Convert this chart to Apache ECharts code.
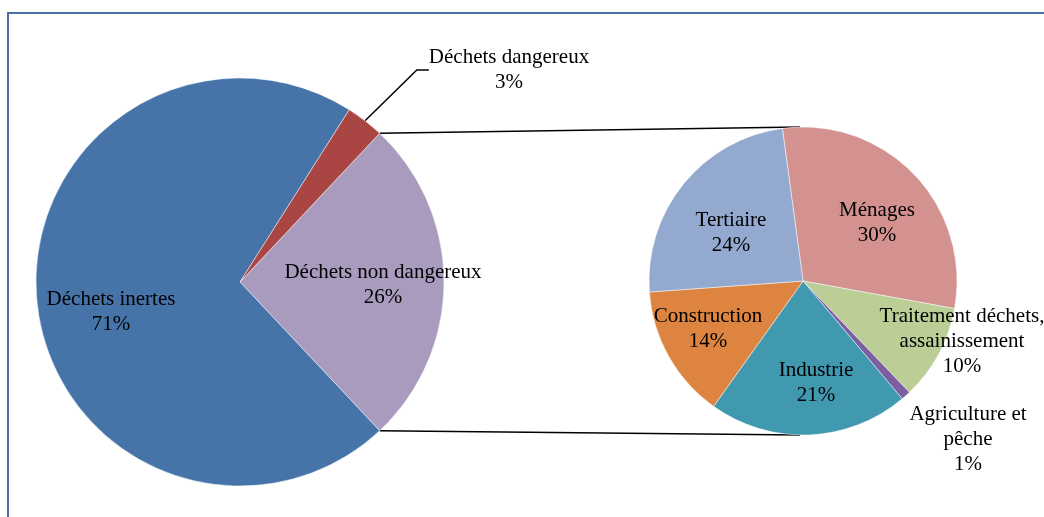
<!DOCTYPE html>
<html>
<head>
<meta charset="utf-8">
<script src="https://cdn.jsdelivr.net/npm/echarts@6/dist/echarts.min.js"></script>
<style>
  html, body { margin: 0; padding: 0; background: #fff; }
  #chart { width: 1044px; height: 517px; position: relative; }
  #frame {
    position: absolute; left: 7px; top: 12px; width: 1060px; height: 520px;
    border-left: 2px solid #4a6fa5; border-top: 2px solid #4a6fa5;
    pointer-events: none;
  }
</style>
</head>
<body>
<div id="chart"></div>
<div id="frame"></div>
<script>
// premier camembert
const mainCategories = ['Déchets non dangereux', 'Déchets inertes', 'Déchets dangereux'];
const mainValues = [26, 71, 3];
// détail des déchets non dangereux
const detailCategories = ['Ménages', 'Traitement déchets,\nassainissement', 'Agriculture et\npêche', 'Industrie', 'Construction', 'Tertiaire'];
const detailValues = [30, 10, 1, 21, 14, 24];

const mainColors = ['#A99BBE', '#4674A9', '#A94643'];
const detailColors = ['#D39290', '#BACE96', '#7C5FA0', '#4199B0', '#DD8540', '#93A9CF'];

const mainCenter = [240, 282], mainRadius = 204;
const detailCenter = [803, 281], detailRadius = 154;

// positions des étiquettes (centre du bloc de texte)
const labelPos = [
    [[383, 285], [111, 312], [509, 70]],
    [[877, 223], [962, 341], [968, 439], [816, 383], [708, 329], [731, 233]]
];

const font = "'Liberation Serif', 'Times New Roman', serif";

let chart = echarts.init(document.getElementById('chart'));

let sum = mainValues.reduce((a, b) => a + b, 0);
let halfAngle = mainValues[0] / sum * 180;

// lignes de liaison entre les deux camemberts
let rad = halfAngle * Math.PI / 180;
let p1 = [mainCenter[0] + mainRadius * Math.cos(rad), mainCenter[1] - mainRadius * Math.sin(rad)];
let p2 = [mainCenter[0] + mainRadius * Math.cos(rad), mainCenter[1] + mainRadius * Math.sin(rad)];
let q1 = [detailCenter[0] - 3, detailCenter[1] - detailRadius];
let q2 = [detailCenter[0] - 3, detailCenter[1] + detailRadius];

function makeData (names, values, colors, withLine) {
    return names.map((n, i) => ({
        name: n,
        value: values[i],
        itemStyle: { color: colors[i] },
        label: { position: withLine === i ? 'outside' : 'inside' },
        labelLine: { show: withLine === i }
    }));
}

let labelStyle = {
    formatter: '{b}\n{d}%',
    color: '#000',
    fontFamily: font,
    fontSize: 21,
    lineHeight: 25,
    overflow: 'none'
};

let option = {
    animation: false,
    textStyle: { fontFamily: font },
    graphic: [
        { type: 'line', shape: { x1: p1[0], y1: p1[1], x2: q1[0], y2: q1[1] }, style: { stroke: '#000', lineWidth: 1.5 } },
        { type: 'line', shape: { x1: p2[0], y1: p2[1], x2: q2[0], y2: q2[1] }, style: { stroke: '#000', lineWidth: 1.5 } }
    ],
    series: [
        {
            type: 'pie',
            center: mainCenter,
            radius: mainRadius,
            startAngle: halfAngle,
            clockwise: true,
            itemStyle: { borderColor: 'rgba(255,255,255,0.6)', borderWidth: 0.8 },
            label: labelStyle,
            labelLine: { length: 20, length2: 12, lineStyle: { color: '#000', width: 1.5 } },
            labelLayout: function (params) {
                let p = labelPos[0][params.dataIndex];
                return { x: p[0], y: p[1], align: 'center', verticalAlign: 'middle' };
            },
            data: makeData(mainCategories, mainValues, mainColors, 2)
        },
        {
            type: 'pie',
            center: detailCenter,
            radius: detailRadius,
            startAngle: 97.7,
            clockwise: true,
            itemStyle: { borderColor: 'rgba(255,255,255,0.6)', borderWidth: 0.8 },
            label: labelStyle,
            labelLine: { show: false },
            labelLayout: function (params) {
                let p = labelPos[1][params.dataIndex];
                return { x: p[0], y: p[1], align: 'center', verticalAlign: 'middle' };
            },
            data: makeData(detailCategories, detailValues, detailColors, -1)
        }
    ]
};

chart.setOption(option);
</script>
</body>
</html>
